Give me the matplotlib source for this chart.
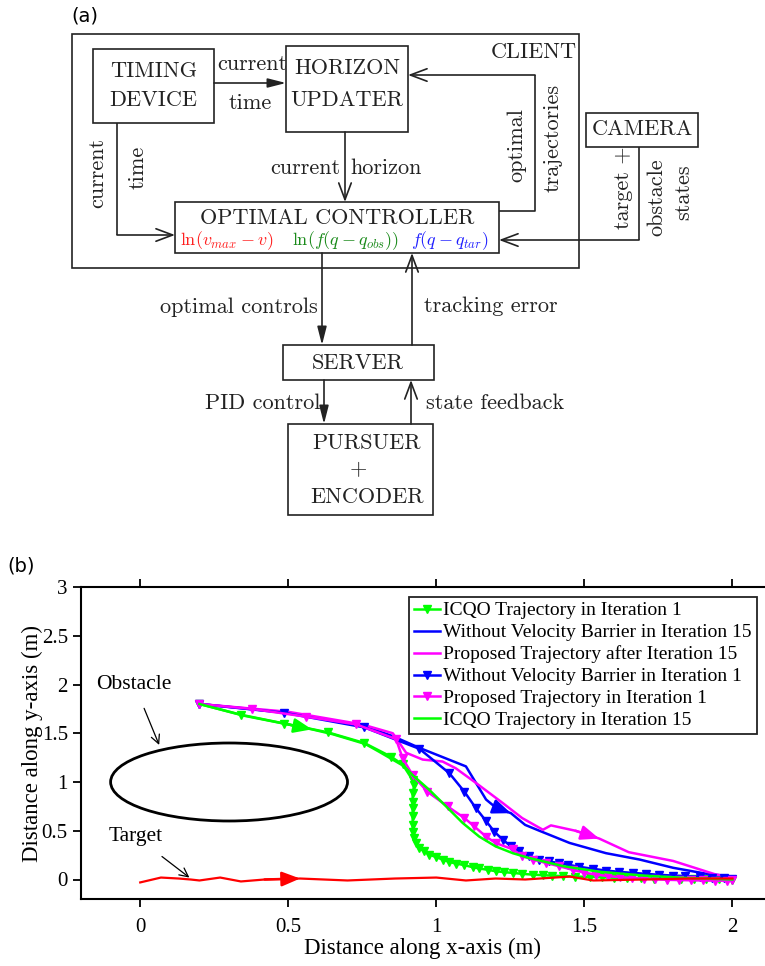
import matplotlib
matplotlib.use('Agg')
import matplotlib.pyplot as plt
from matplotlib.patches import Rectangle, Ellipse

plt.rcParams['mathtext.fontset'] = 'cm'

# target path (m)
tar_x = [0.0, 0.07, 0.13, 0.17, 0.2, 0.27, 0.34, 0.42, 0.54, 0.7, 0.86, 1.0, 1.1, 1.2, 1.3, 1.45, 1.53, 1.7, 1.85, 2.0]
tar_y = [-0.03, 0.02, 0.01, 0.0, -0.01, 0.02, -0.02, 0.0, 0.01, -0.01, 0.01, 0.02, -0.01, 0.01, 0.0, 0.03, -0.01, 0.0, 0.01, 0.01]

# ICQO, iteration 1
icqo1_x = [0.2, 0.34, 0.486, 0.633, 0.757, 0.847, 0.886, 0.92, 0.926, 0.92, 0.92, 0.92, 0.92, 0.92, 0.92,
           0.926, 0.931, 0.943, 0.959, 0.976, 0.999, 1.021, 1.044, 1.066, 1.095, 1.123, 1.145, 1.173, 1.20,
           1.23, 1.258, 1.29, 1.325, 1.36, 1.39, 1.427, 1.47, 1.52, 1.56, 1.6, 1.645, 1.69, 1.735, 1.78,
           1.825, 1.87, 1.91, 1.955, 2.0]
icqo1_y = [1.8, 1.69, 1.60, 1.51, 1.40, 1.26, 1.18, 1.02, 0.97, 0.89, 0.80, 0.73, 0.65, 0.56, 0.49,
           0.43, 0.375, 0.32, 0.29, 0.256, 0.23, 0.205, 0.18, 0.164, 0.147, 0.126, 0.113, 0.10, 0.085,
           0.075, 0.068, 0.058, 0.05, 0.044, 0.04, 0.034, 0.03, 0.026, 0.022, 0.018, 0.015, 0.012, 0.01, 0.008,
           0.006, 0.004, 0.002, 0.001, 0.0]

# ICQO, iteration 15
icqo15_x = [0.2, 0.35, 0.5, 0.58, 0.65, 0.76, 0.807, 0.892, 0.92, 0.976, 1.033, 1.089, 1.145, 1.20, 1.258,
            1.314, 1.43, 1.55, 1.7, 1.85, 2.0]
icqo15_y = [1.8, 1.68, 1.59, 1.54, 1.49, 1.39, 1.31, 1.16, 1.07, 0.92, 0.75, 0.58, 0.44, 0.34, 0.27,
            0.22, 0.136, 0.08, 0.04, 0.015, 0.0]

# without velocity barrier, iteration 1
nvb1_x = [0.2, 0.486, 0.757, 0.943, 1.044, 1.095, 1.134, 1.168, 1.196, 1.224, 1.252, 1.28, 1.314, 1.348, 1.38,
          1.415, 1.444, 1.483, 1.528, 1.573, 1.618, 1.663, 1.708, 1.753, 1.80, 1.84, 1.89, 1.93, 1.97, 2.0]
nvb1_y = [1.8, 1.71, 1.56, 1.34, 1.09, 0.90, 0.73, 0.60, 0.49, 0.41, 0.34, 0.29, 0.24, 0.205, 0.185,
          0.168, 0.152, 0.13, 0.11, 0.092, 0.078, 0.068, 0.058, 0.048, 0.04, 0.034, 0.027, 0.02, 0.013, 0.007]

# without velocity barrier, iteration 15
nvb15_x = [0.2, 0.5, 0.75, 0.853, 0.943, 1.10, 1.134, 1.168, 1.2, 1.252, 1.30, 1.348, 1.45, 1.573, 1.686,
           1.80, 1.91, 2.0]
nvb15_y = [1.8, 1.71, 1.58, 1.47, 1.35, 1.16, 0.99, 0.82, 0.74, 0.68, 0.56, 0.50, 0.375, 0.27, 0.205,
           0.12, 0.06, 0.03]

# proposed, iteration 1
prop1_x = [0.2, 0.376, 0.56, 0.73, 0.864, 0.886, 0.92, 0.97, 1.038, 1.095, 1.128, 1.168, 1.20, 1.258, 1.29,
           1.325, 1.37, 1.415, 1.46, 1.5, 1.54, 1.58, 1.62, 1.66, 1.70, 1.74, 1.78, 1.82, 1.86, 1.9,
           1.94, 1.98, 2.0]
prop1_y = [1.8, 1.75, 1.67, 1.59, 1.44, 1.245, 1.07, 0.90, 0.75, 0.63, 0.545, 0.44, 0.375, 0.31, 0.24,
           0.205, 0.17, 0.136, 0.1, 0.07, 0.05, 0.035, 0.025, 0.015, 0.008, 0.002, -0.003, -0.006, -0.008, -0.01,
           -0.012, -0.012, -0.01]

# proposed, after iteration 15
prop15_x = [0.2, 0.5, 0.75, 0.853, 0.898, 0.954, 1.021, 1.066, 1.134, 1.224, 1.29, 1.36, 1.387, 1.47, 1.55,
            1.65, 1.80, 1.945, 2.0]
prop15_y = [1.8, 1.72, 1.59, 1.50, 1.30, 1.23, 1.21, 1.14, 0.99, 0.785, 0.63, 0.51, 0.555, 0.50, 0.42,
            0.28, 0.19, 0.05, 0.03]

# obstacle: centre and radius (m)
obs_c = (0.3, 1.0)
obs_r = 0.4

fig = plt.figure(figsize=(7.65, 9.66), dpi=100)

# ---------------- (a) block diagram, in pixel units ----------------
dg = fig.add_axes([0, 0, 1, 1])
dg.set_xlim(0, 765)
dg.set_ylim(966, 0)
dg.axis('off')

INK = '#222222'
CM = 'cmr10'


def box(x0, y0, x1, y1):
    dg.add_patch(Rectangle((x0, y0), x1 - x0, y1 - y0, fill=False, ec=INK, lw=1.2))


def wire(xs, ys, filled=False):
    if len(xs) > 2:
        dg.plot(xs[:-1], ys[:-1], color=INK, lw=1.2, solid_capstyle='butt')
    if filled:
        st = '-|>,head_length=1.1,head_width=0.28'
    else:
        st = '->,head_length=1.2,head_width=0.45'
    dg.annotate('', xy=(xs[-1], ys[-1]), xytext=(xs[-2], ys[-2]),
                arrowprops=dict(arrowstyle=st, color=INK, lw=1.2, shrinkA=0, shrinkB=0,
                                mutation_scale=10))


def label(x, y, s, rot=0, ha='center', size=16, color=INK):
    dg.text(x, y, s, rotation=rot, ha=ha, va='center', fontsize=size, family=CM, color=color)


dg.text(85, 16, '(a)', ha='center', va='center', fontsize=14, family='DejaVu Sans')
dg.text(21, 566, '(b)', ha='center', va='center', fontsize=14, family='DejaVu Sans')

box(72, 34, 579, 268)
label(534, 52, 'CLIENT')

box(93, 49, 214, 123)
label(153.5, 71, 'TIMING')
label(153.5, 100, 'DEVICE')

box(286, 46, 408, 132)
label(347, 68, 'HORIZON')
label(347, 100, 'UPDATER')

box(175, 202, 499, 253)
label(337, 218, 'OPTIMAL CONTROLLER')
label(227, 241, r'$\ln(v_{max}-v)$', size=13, color='#ff2020')
label(346, 241, r'$\ln(f(q-q_{obs}))$', size=13, color='#1a8a1a')
label(450, 241, r'$f(q-q_{tar})$', size=13, color='#2020ff')

box(586, 113, 698, 147)
label(642, 129, 'CAMERA')

box(283, 345, 434, 380)
label(358, 363, 'SERVER')

box(288, 424, 433, 515)
label(367, 443, 'PURSUER')
label(358, 469, '+')
label(367, 497, 'ENCODER')

wire([214, 286], [83, 83], filled=True)
label(252, 64, 'current')
label(250, 103, 'time')

wire([117, 117, 175], [123, 235, 235])
label(97, 173, 'current', rot=90)
label(138, 167, 'time', rot=90)

wire([345, 345], [132, 202])
label(340, 168, 'current', ha='right')
label(350, 168, 'horizon', ha='left')

wire([499, 535, 535, 408], [211, 211, 75, 75])
label(517, 145, 'optimal', rot=90)
label(553, 138, 'trajectories', rot=90)

wire([639, 639, 499], [147, 240, 240])
label(623, 188, 'target +', rot=90)
label(657, 197, 'obstacle', rot=90)
label(683, 192, 'states', rot=90)

wire([322, 322], [253, 345], filled=True)
label(318, 307, 'optimal controls', ha='right')
wire([412, 412], [345, 253])
label(424, 306, 'tracking error', ha='left')

wire([324, 324], [380, 424], filled=True)
label(320, 403, 'PID control', ha='right')
wire([411, 411], [424, 380])
label(426, 403, 'state feedback', ha='left')

# ---------------- (b) trajectories ----------------
SERIF = 'Liberation Serif'
ax = fig.add_axes([81 / 765, 67 / 966, 684 / 765, 312 / 966])
ax.set_xlim(-0.2, 2.11)
ax.set_ylim(-0.2, 3)

mk = dict(marker='v', markersize=5.5, markeredgewidth=1)
ax.plot(icqo1_x, icqo1_y, color='#00ff00', lw=1.8, label='ICQO Trajectory in Iteration 1', **mk)
ax.plot(nvb15_x, nvb15_y, color='#0000ff', lw=1.8, label='Without Velocity Barrier in Iteration 15')
ax.plot(prop15_x, prop15_y, color='#ff00ff', lw=1.8, label='Proposed Trajectory after Iteration 15')
ax.plot(nvb1_x, nvb1_y, color='#0000ff', lw=1.8, label='Without Velocity Barrier in Iteration 1', **mk)
ax.plot(prop1_x, prop1_y, color='#ff00ff', lw=1.8, label='Proposed Trajectory in Iteration 1', **mk)
ax.plot(icqo15_x, icqo15_y, color='#00ff00', lw=1.8, label='ICQO Trajectory in Iteration 15')
ax.plot(tar_x, tar_y, color='#ff0000', lw=1.6)


def heading(xs, ys, i, color):
    # arrowhead showing the direction of travel on segment i -> i+1
    ax.annotate('', xy=(xs[i + 1], ys[i + 1]), xytext=(xs[i], ys[i]),
                arrowprops=dict(arrowstyle='-|>,head_length=0.55,head_width=0.22', color=color, lw=1.8,
                                shrinkA=0, shrinkB=0, mutation_scale=20))


heading(tar_x, tar_y, 7, '#ff0000')
heading(icqo15_x, icqo15_y, 2, '#00ff00')
heading(nvb15_x, nvb15_y, 8, '#0000ff')
heading(prop15_x, prop15_y, 13, '#ff00ff')

ax.add_patch(Ellipse(obs_c, 2 * obs_r, 2 * obs_r, fill=False, ec='black', lw=2))

ax.annotate('Obstacle', xy=(0.064, 1.38), xytext=(-0.02, 2.0), ha='center', va='center',
            fontsize=15.5, family=SERIF,
            arrowprops=dict(arrowstyle='->', color='black', lw=0.9, shrinkA=9, shrinkB=0))
ax.annotate('Target', xy=(0.166, 0.02), xytext=(-0.014, 0.44), ha='center', va='center',
            fontsize=15.5, family=SERIF,
            arrowprops=dict(arrowstyle='->', color='black', lw=0.9, shrinkA=9, shrinkB=0))

ax.set_xticks([0, 0.5, 1, 1.5, 2])
ax.set_xticklabels(['0', '0.5', '1', '1.5', '2'])
ax.set_yticks([0, 0.5, 1, 1.5, 2, 2.5, 3])
ax.set_yticklabels(['0', '0.5', '1', '1.5', '2', '2.5', '3'])
ax.tick_params(direction='out', length=6, width=1.3, top=True, right=False, labelsize=15)
ax.tick_params(axis='x', pad=8)
for t in ax.get_xticklabels() + ax.get_yticklabels():
    t.set_family(SERIF)
for side in ['left', 'bottom', 'top']:
    ax.spines[side].set_linewidth(1.5)
ax.spines['right'].set_visible(False)

ax.set_xlabel('Distance along x-axis (m)', fontsize=16.5, family=SERIF, labelpad=0)
ax.set_ylabel('Distance along y-axis (m)', fontsize=16.5, family=SERIF, labelpad=-1)

leg = ax.legend(loc='upper right', bbox_to_anchor=(0.988, 0.968), borderaxespad=0,
                prop={'family': SERIF, 'size': 14}, handlelength=1.3, handletextpad=0.2,
                borderpad=0.25, labelspacing=0.22, fancybox=False, framealpha=1)
leg.get_frame().set_edgecolor('#222222')
leg.get_frame().set_linewidth(1.3)

fig.savefig('out.png', dpi=100)
